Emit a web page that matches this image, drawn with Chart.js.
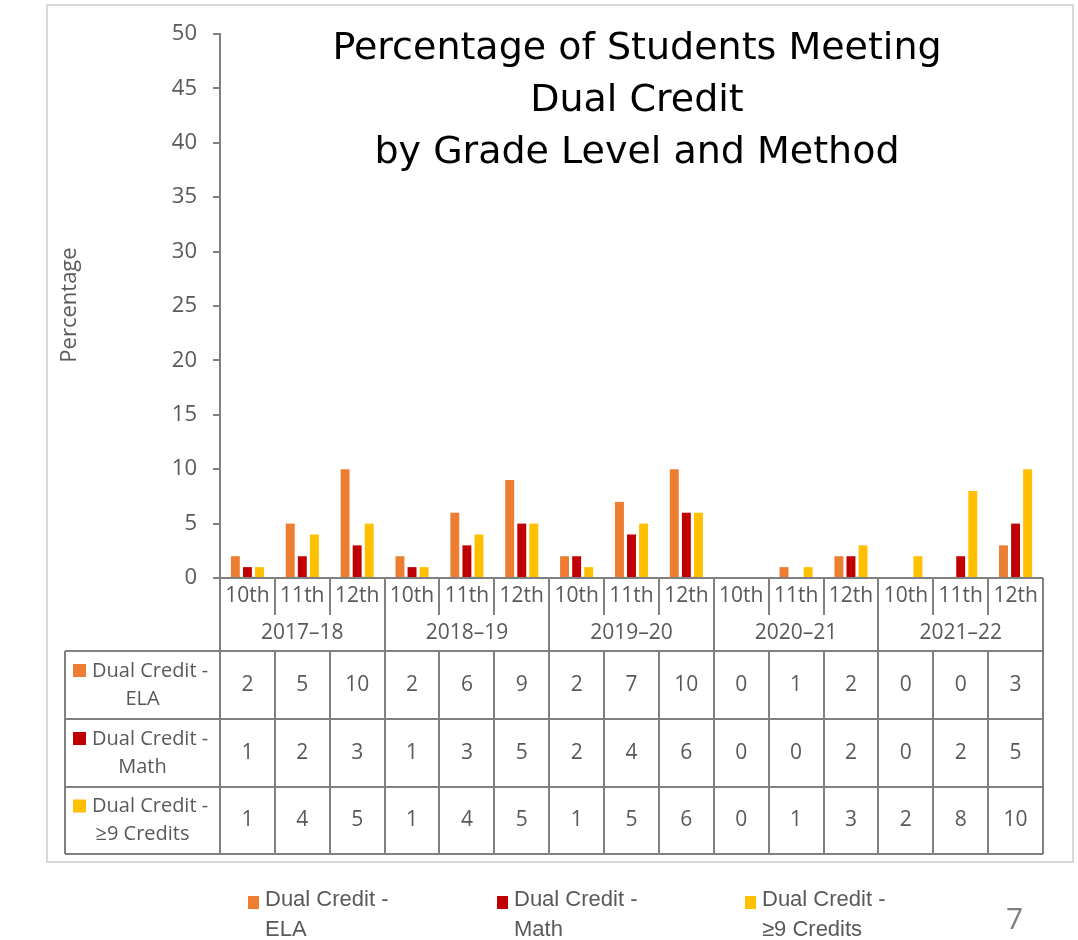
<!DOCTYPE html>
<html>
<head>
<meta charset="utf-8">
<script src="https://cdn.jsdelivr.net/npm/chart.js@4.4.1/dist/chart.umd.min.js"></script>
<style>
  html, body { margin: 0; padding: 0; background: #fff; }
  #wrap { width: 1078px; height: 940px; }
</style>
</head>
<body>
<div id="wrap"><canvas id="chart" width="1078" height="940"></canvas></div>
<script>
// data
const years = ['2017–18', '2018–19', '2019–20', '2020–21', '2021–22'];
const grades = ['10th', '11th', '12th'];
const seriesNames = [['Dual Credit -', 'ELA'], ['Dual Credit -', 'Math'], ['Dual Credit -', '≥9 Credits']];
const seriesColors = ['#ED7D31', '#C00000', '#FFC000'];
const ela     = [2, 5, 10, 2, 6, 9, 2, 7, 10, 0, 1, 2, 0, 0, 3];
const math    = [1, 2, 3, 1, 3, 5, 2, 4, 6, 0, 0, 2, 0, 2, 5];
const credits = [1, 4, 5, 1, 4, 5, 1, 5, 6, 0, 1, 3, 2, 8, 10];
const titleLines = ['Percentage of Students Meeting', 'Dual Credit', 'by Grade Level and Method'];
const yTitle = 'Percentage';
const pageNo = '7';

const labels = [];
years.forEach(y => grades.forEach(g => labels.push(y + ' ' + g)));
const series = [ela, math, credits];

const grey = '#595959';
const lineGrey = '#808080';
const font = '"Open Sans", "Noto Sans", sans-serif';

// table rows (y) under the plot
const gradeRowBottom = 615;
const yearRowBottom = 651;
const tableRows = [651, 719, 787, 854];
const tableLeft = 65;

const extras = {
    id: 'extras',
    beforeDraw(chart) {
        const c = chart.ctx;
        c.save();
        c.fillStyle = '#fff';
        c.fillRect(0, 0, chart.width, chart.height);
        c.strokeStyle = '#d9d9d9';
        c.lineWidth = 2;
        c.strokeRect(47, 5, 1026, 857);
        c.restore();
    },
    afterDraw(chart) {
        const c = chart.ctx;
        const xs = chart.scales.x;
        const area = chart.chartArea;
        const step = xs.getPixelForValue(1) - xs.getPixelForValue(0);
        const edge = i => xs.getPixelForValue(i) - step / 2;
        const n = labels.length;
        c.save();

        // title
        c.fillStyle = '#000';
        c.textAlign = 'center';
        c.textBaseline = 'middle';
        c.font = '38px "DejaVu Sans", sans-serif';
        titleLines.forEach((t, i) => c.fillText(t, 637, 49 + i * 52));

        // y title
        c.save();
        c.translate(70, 305);
        c.rotate(-Math.PI / 2);
        c.fillStyle = grey;
        c.font = '22px ' + font;
        c.fillText(yTitle, 0, 0);
        c.restore();

        // category axis lines
        c.strokeStyle = lineGrey;
        c.lineWidth = 2;
        c.beginPath();
        c.moveTo(area.left, area.bottom);
        c.lineTo(edge(n), area.bottom);
        for (let i = 0; i <= n; i++) {
            const x = Math.round(edge(i));
            c.moveTo(x, area.bottom);
            c.lineTo(x, i % grades.length === 0 ? yearRowBottom : gradeRowBottom);
        }
        // table grid
        tableRows.forEach(y => {
            c.moveTo(tableLeft, y);
            c.lineTo(edge(n), y);
        });
        c.moveTo(tableLeft, tableRows[0]);
        c.lineTo(tableLeft, tableRows[3]);
        for (let i = 0; i <= n; i++) {
            const x = Math.round(edge(i));
            c.moveTo(x, tableRows[0]);
            c.lineTo(x, tableRows[3]);
        }
        c.stroke();

        // grade + year labels
        c.fillStyle = grey;
        c.font = '21px ' + font;
        labels.forEach((l, i) => {
            c.fillText(grades[i % grades.length], xs.getPixelForValue(i), (area.bottom + gradeRowBottom) / 2);
        });
        years.forEach((y, k) => {
            const x = (edge(k * grades.length) + edge((k + 1) * grades.length)) / 2;
            c.fillText(y, x, (gradeRowBottom + yearRowBottom) / 2);
        });

        // table rows
        series.forEach((vals, r) => {
            const mid = (tableRows[r] + tableRows[r + 1]) / 2;
            c.font = '21px ' + font;
            vals.forEach((v, i) => c.fillText(String(v), xs.getPixelForValue(i), mid));
            c.fillStyle = seriesColors[r];
            c.fillRect(tableLeft + 8, mid - 21, 13, 13);
            c.fillStyle = grey;
            c.font = '20px ' + font;
            c.textAlign = 'left';
            c.fillText(seriesNames[r][0], tableLeft + 27, mid - 14);
            c.textAlign = 'center';
            c.fillText(seriesNames[r][1], (tableLeft + edge(0)) / 2, mid + 14);
        });

        // bottom legend
        const legX = [248, 497, 745];
        c.textAlign = 'left';
        c.font = '22px "Liberation Sans Narrow", "Liberation Sans", sans-serif';
        legX.forEach((x, r) => {
            c.fillStyle = seriesColors[r];
            c.fillRect(x, 896, 11, 13);
            c.fillStyle = grey;
            c.fillText(seriesNames[r][0], x + 17, 900);
            c.fillText(seriesNames[r][1], x + 17, 930);
        });

        // page number
        c.fillStyle = '#7f7f7f';
        c.font = '30px ' + font;
        c.fillText(pageNo, 1006, 920);
        c.restore();
    }
};

new Chart(document.getElementById('chart'), {
    type: 'bar',
    data: {
        labels: labels,
        datasets: series.map((vals, r) => ({
            label: seriesNames[r].join(' '),
            data: vals,
            backgroundColor: seriesColors[r],
            categoryPercentage: 0.66,
            barPercentage: 0.74
        }))
    },
    options: {
        responsive: false,
        animation: false,
        layout: { padding: { top: 34, bottom: 362, right: 35, left: 0 } },
        plugins: { legend: { display: false }, tooltip: { enabled: false }, title: { display: false } },
        scales: {
            x: { display: false },
            y: {
                min: 0,
                max: 50,
                afterFit(scale) { scale.width = 220; },
                ticks: { stepSize: 5, color: grey, padding: 16, font: { family: font, size: 22 } },
                grid: { drawOnChartArea: false, drawTicks: true, tickLength: 7, color: lineGrey, lineWidth: 2 },
                border: { color: lineGrey, width: 2 }
            }
        }
    },
    plugins: [extras]
});
</script>
</body>
</html>
